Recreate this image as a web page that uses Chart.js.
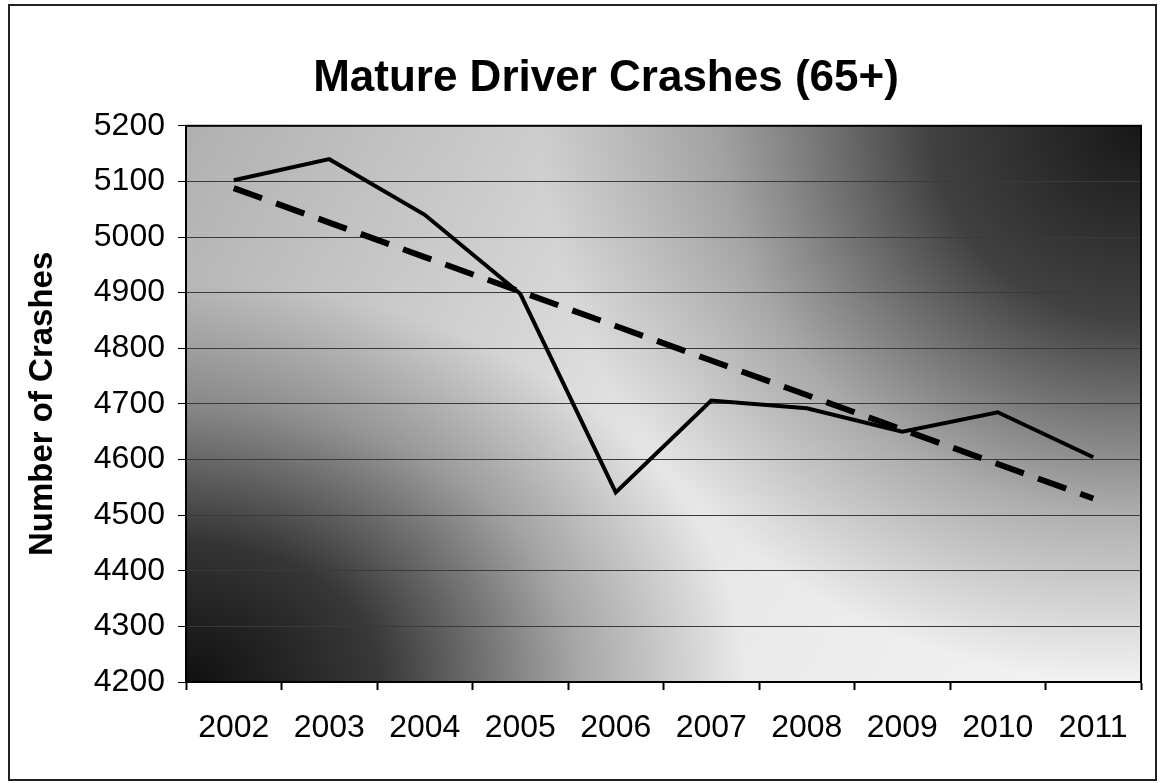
<!DOCTYPE html>
<html>
<head>
<meta charset="utf-8">
<title>Mature Driver Crashes (65+)</title>
<script src="https://cdn.jsdelivr.net/npm/chart.js@4.4.1/dist/chart.umd.min.js"></script>
<style>
  html, body { margin: 0; padding: 0; background: #fff; }
  canvas { display: block; }
</style>
</head>
<body>
<canvas id="myChart" width="1160" height="783"></canvas>
<script>
const years = ['2002', '2003', '2004', '2005', '2006', '2007', '2008', '2009', '2010', '2011'];
const crashes = [5102, 5140, 5040, 4898, 4541, 4706, 4692, 4650, 4685, 4604];
const trend = [5088, 5026, 4964, 4902, 4840, 4778, 4716, 4654, 4592, 4530];

const titleText = 'Mature Driver Crashes (65+)';
const yTitleText = 'Number of Crashes';
const fontFamily = '"Liberation Sans", Arial, sans-serif';

// elliptical dark patch anchored at a corner of the plot
function darkCorner(ctx, a, cx, cy, rx, ry, alpha) {
  ctx.save();
  ctx.beginPath();
  ctx.rect(a.left, a.top, a.width, a.height);
  ctx.clip();
  ctx.translate(cx, cy);
  ctx.scale(1, ry / rx);
  const g = ctx.createRadialGradient(0, 0, 0, 0, 0, rx);
  g.addColorStop(0, `rgba(0,0,0,${alpha})`);
  g.addColorStop(0.35, `rgba(0,0,0,${alpha * 0.8})`);
  g.addColorStop(0.7, `rgba(0,0,0,${alpha * 0.3})`);
  g.addColorStop(1, 'rgba(0,0,0,0)');
  ctx.fillStyle = g;
  ctx.fillRect(-rx, -rx, rx * 2, rx * 2);
  ctx.restore();
}

const plotBackground = {
  id: 'plotBackground',
  beforeDraw(chart) {
    const { ctx, chartArea: a } = chart;
    ctx.save();
    const base = ctx.createLinearGradient(a.left, a.top, a.right, a.bottom);
    base.addColorStop(0, '#b0b0b0');
    base.addColorStop(0.5, '#e4e4e4');
    base.addColorStop(1, '#f4f4f4');
    ctx.fillStyle = base;
    ctx.fillRect(a.left, a.top, a.width, a.height);
    ctx.restore();
    darkCorner(ctx, a, a.right, a.top, 600, 560, 0.9);
    darkCorner(ctx, a, a.left, a.bottom, 560, 400, 0.92);
  },
  afterDraw(chart) {
    const { ctx, chartArea: a } = chart;
    ctx.save();
    ctx.strokeStyle = '#000';
    ctx.lineWidth = 2;
    ctx.strokeRect(a.left, a.top, a.width, a.height);
    // outer frame
    ctx.strokeStyle = '#222';
    ctx.lineWidth = 2;
    ctx.strokeRect(9, 5, 1147, 775);
    ctx.restore();
  }
};

const data = {
  labels: years,
  datasets: [
    {
      label: 'Crashes',
      data: crashes,
      borderColor: '#000',
      borderWidth: 4,
      pointRadius: 0,
      tension: 0,
      fill: false,
    },
    {
      label: 'Trend',
      data: trend,
      borderColor: '#000',
      borderWidth: 6,
      borderDash: [30, 15],
      pointRadius: 0,
      tension: 0,
      fill: false,
    }
  ]
};

const options = {
  responsive: false,
  animation: false,
  layout: { padding: { left: 71, right: 19, top: 0, bottom: 0 } },
  plugins: {
    legend: { display: false },
    tooltip: { enabled: false },
    title: {
      display: true,
      text: titleText,
      color: '#000',
      font: { family: fontFamily, size: 44, weight: 'bold' },
      padding: { top: 52, bottom: 21 },
    },
  },
  scales: {
    x: {
      offset: true,
      grid: {
        offset: true,
        drawOnChartArea: false,
        tickLength: 8,
        tickColor: '#000',
        tickWidth: 2,
      },
      border: { color: '#000', width: 2 },
      ticks: {
        color: '#000',
        padding: 19,
        font: { family: fontFamily, size: 32 },
        maxRotation: 0,
      },
      afterFit(scale) { scale.height = 101; },
    },
    y: {
      min: 4200,
      max: 5200,
      grid: {
        color: '#3a3a3a',
        lineWidth: 1,
        tickLength: 8,
        tickColor: '#000',
      },
      border: { color: '#000', width: 2 },
      ticks: {
        stepSize: 100,
        color: '#000',
        padding: 13,
        font: { family: fontFamily, size: 32 },
        callback: (value) => String(value),
      },
      title: {
        display: true,
        text: yTitleText,
        color: '#000',
        font: { family: fontFamily, size: 33, weight: 'bold' },
        padding: { top: -48, bottom: 0 },
      },
      afterFit(scale) { scale.width = 115; },
    },
  },
};

const config = {
  type: 'line',
  data,
  options,
  plugins: [plotBackground],
};

const myLineChart = new Chart(document.getElementById('myChart'), config);
</script>
</body>
</html>
